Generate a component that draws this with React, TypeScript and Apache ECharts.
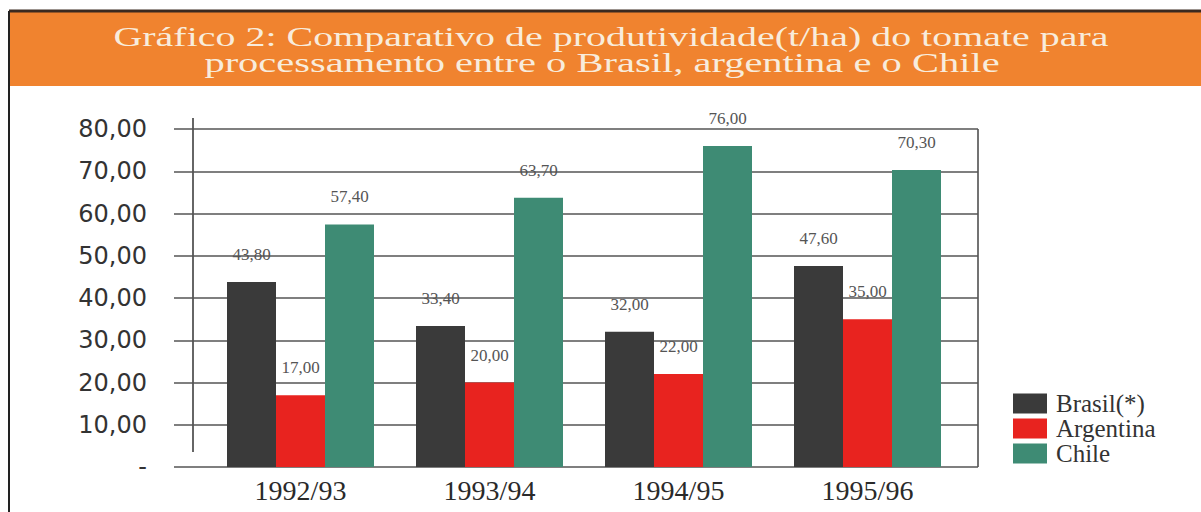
import React, { useEffect, useRef } from "react";
import * as echarts from "echarts";

const categories = ["1992/93", "1993/94", "1994/95", "1995/96"];
const brasil = [43.8, 33.4, 32.0, 47.6];
const argentina = [17.0, 20.0, 22.0, 35.0];
const chile = [57.4, 63.7, 76.0, 70.3];
const seriesNames = ["Brasil(*)", "Argentina", "Chile"];
const titleLines = [
  "Gráfico 2: Comparativo de produtividade(t/ha) do tomate para",
  "processamento entre o Brasil, argentina e o Chile",
];

const fmt = (v: number) => (v === 0 ? "-" : v.toFixed(2).replace(".", ","));

export default function App() {
  const ref = useRef<HTMLDivElement>(null);
  useEffect(() => {
    document.body.style.margin = "0";
    const chart = echarts.init(ref.current!, null, { renderer: "svg" });
    const labelStyle = {
      show: true,
      position: "top" as const,
      distance: 19,
      fontFamily: "Liberation Serif",
      fontSize: 17,
      color: "#555",
      formatter: (p: any) => fmt(p.value),
    };
    chart.setOption({
      animation: false,
      backgroundColor: "#ffffff",
      grid: [
        { left: 206, right: 239, top: 129, bottom: 45 },
        { left: 174, right: 223, top: 129, bottom: 45 },
      ],
      xAxis: [
        {
          type: "category",
          gridIndex: 0,
          data: categories,
          axisLine: { show: false },
          axisTick: { show: false },
          axisLabel: {
            margin: 9,
            fontFamily: "Liberation Serif",
            fontSize: 28,
            color: "#2a2a2a",
          },
        },
        { type: "value", gridIndex: 1, show: false },
      ],
      yAxis: [
        {
          type: "value",
          gridIndex: 0,
          min: 0,
          max: 80,
          interval: 10,
          show: false,
        },
        {
          type: "value",
          gridIndex: 1,
          min: 0,
          max: 80,
          interval: 10,
          axisLine: { show: false },
          axisTick: { show: false },
          splitLine: { show: true, lineStyle: { color: "#555", width: 1.5 } },
          axisLabel: {
            margin: 27,
            fontFamily: "DejaVu Sans",
            fontSize: 24,
            color: "#333",
            formatter: fmt,
          },
        },
      ],
      legend: {
        orient: "vertical",
        left: 1013,
        top: 391,
        padding: 0,
        itemWidth: 34,
        itemHeight: 20,
        itemGap: 0,
        icon: "rect",
        data: seriesNames,
        textStyle: {
          fontFamily: "Liberation Serif",
          fontSize: 25,
          color: "#333",
          padding: [0, 0, 0, 4],
        },
      },
      series: [
        {
          name: seriesNames[0],
          type: "bar",
          xAxisIndex: 0,
          yAxisIndex: 0,
          data: brasil,
          barWidth: 49,
          barGap: "0%",
          itemStyle: { color: "#3a3a3a" },
          label: labelStyle,
        },
        {
          name: seriesNames[1],
          type: "bar",
          xAxisIndex: 0,
          yAxisIndex: 0,
          data: argentina,
          barWidth: 49,
          barGap: "0%",
          itemStyle: { color: "#e8231f" },
          label: labelStyle,
        },
        {
          name: seriesNames[2],
          type: "bar",
          xAxisIndex: 0,
          yAxisIndex: 0,
          data: chile,
          barWidth: 49,
          barGap: "0%",
          itemStyle: { color: "#3e8b74" },
          label: labelStyle,
        },
      ],
      graphic: [
        {
          type: "rect",
          shape: { x: 9, y: 11, width: 1192, height: 75 },
          style: { fill: "#f0832f" },
          z: -1,
        },
        {
          type: "line",
          shape: { x1: 9, y1: 11, x2: 1201, y2: 11 },
          style: { stroke: "#3a2a20", lineWidth: 3 },
        },
        {
          type: "line",
          shape: { x1: 9, y1: 11, x2: 9, y2: 512 },
          style: { stroke: "#222", lineWidth: 2 },
        },
        {
          type: "line",
          shape: { x1: 193, y1: 118, x2: 193, y2: 452 },
          style: { stroke: "#333", lineWidth: 1.5 },
        },
        {
          type: "line",
          shape: { x1: 978, y1: 129, x2: 978, y2: 467 },
          style: { stroke: "#444", lineWidth: 1.5 },
        },
        {
          type: "text",
          x: 611,
          y: 37,
          scaleX: 1.48,
          style: {
            text: titleLines[0],
            fontFamily: "Liberation Serif",
            fontSize: 27,
            fill: "#f8ecdc",
            align: "center",
            verticalAlign: "middle",
          },
        },
        {
          type: "text",
          x: 602,
          y: 63,
          scaleX: 1.5,
          style: {
            text: titleLines[1],
            fontFamily: "Liberation Serif",
            fontSize: 27,
            fill: "#f8ecdc",
            align: "center",
            verticalAlign: "middle",
          },
        },
      ],
    });
    return () => chart.dispose();
  }, []);
  return <div ref={ref} style={{ width: 1201, height: 512 }} />;
}
